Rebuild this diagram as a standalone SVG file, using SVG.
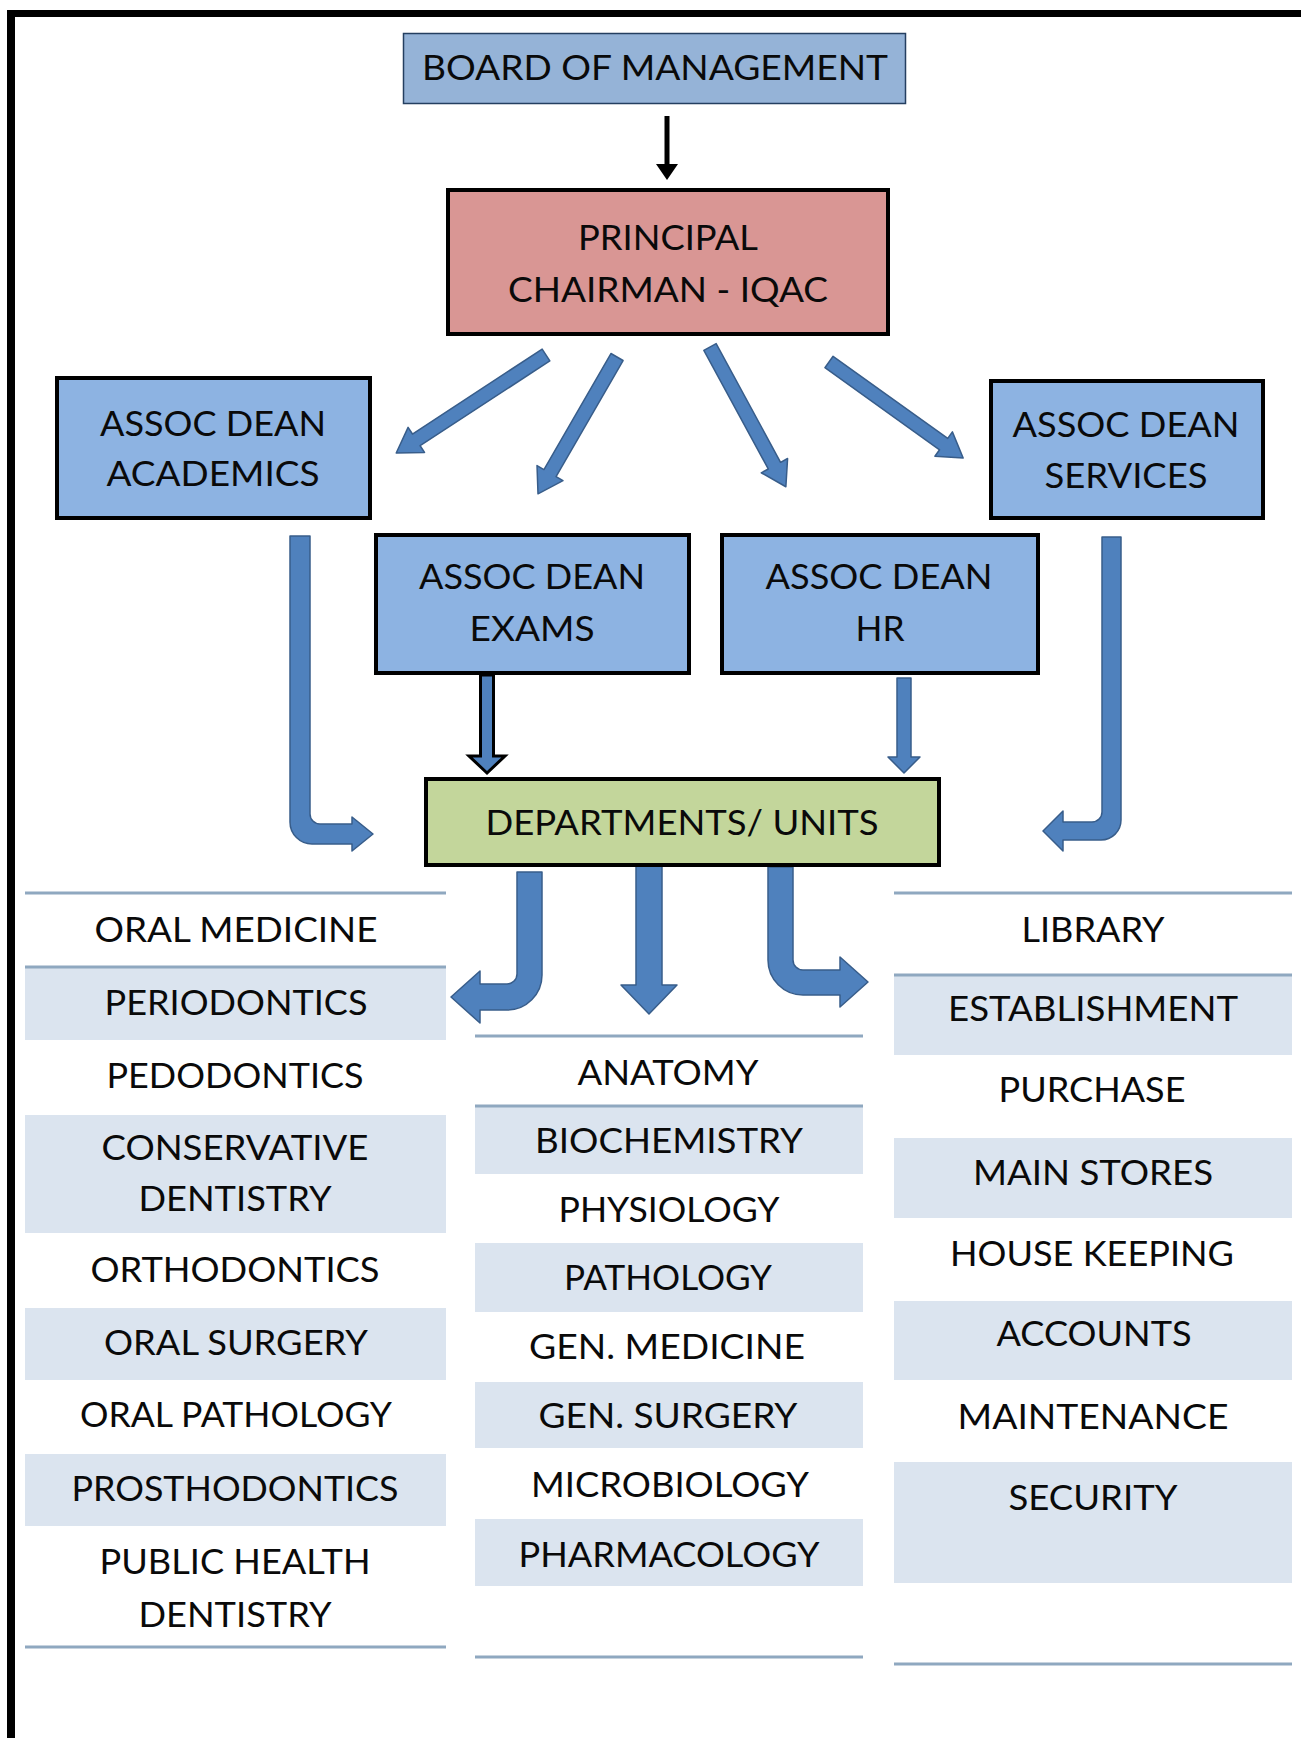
<svg xmlns="http://www.w3.org/2000/svg" width="1301" height="1738" viewBox="0 0 1301 1738">
<style>
text{font-family:Lato,"Open Sans","Liberation Sans",sans-serif;font-size:35px;fill:#0a0a0a;text-anchor:middle}
.dean{fill:#8db3e2;stroke:#000;stroke-width:4}
.blue{fill:#4f81bd;stroke:#385d8a;stroke-width:1.5;stroke-linejoin:round}
.shade{fill:#dbe4ef}
.rule{stroke:#8fa8c0;stroke-width:3}
</style>
<rect x="0" y="0" width="1301" height="1738" fill="#fff"/>
<g id="frame">
<rect x="7" y="10" width="8" height="1728" fill="#000"/>
<rect x="7" y="10" width="1294" height="7" fill="#000"/>
</g>
<g id="connectors">
<rect x="664.5" y="116" width="5" height="52" fill="#000"/>
<polygon points="656,164 678,164 667,180" fill="#000"/>
<path class="blue" transform="translate(546,355) rotate(146.8)" d="M0,-7 H155 V-15 L179,0 L155,15 V7 H0 Z"/>
<path class="blue" transform="translate(617,357) rotate(120)" d="M0,-7 H134 V-15 L158,0 L134,15 V7 H0 Z"/>
<path class="blue" transform="translate(710,347) rotate(61.5)" d="M0,-7 H135 V-15 L159,0 L135,15 V7 H0 Z"/>
<path class="blue" transform="translate(829,362) rotate(35.6)" d="M0,-7 H141 V-15 L165,0 L141,15 V7 H0 Z"/>
<path class="blue" d="M290,536 H310 V814 A10,10 0 0 0 320,824 H352 V817 L373,834 L352,851 V844 H312 A22,22 0 0 1 290,822 Z"/>
<path class="blue" d="M1102,537 H1121 V820 A20,20 0 0 1 1101,840 H1063 V851 L1043,831 L1063,811 V822 H1092 A10,10 0 0 0 1102,812 Z"/>
<path d="M480.5,675 H493.5 V756 H505 L487,773 L469,756 H480.5 Z" fill="#4f81bd" stroke="#000" stroke-width="3" stroke-linejoin="miter"/>
<path class="blue" d="M897,678 H911 V757 H920 L904,773 L888,757 H897 Z"/>
<path class="blue" d="M517,872 H542 V975 A35,35 0 0 1 507,1010 H480 V1023 L451,997 L480,971 V984 H507 A10,10 0 0 0 517,974 Z"/>
<path class="blue" d="M636,864 H662 V985 H677 L649,1014 L621,985 H636 Z"/>
<path class="blue" d="M768,867 H793 V960 A10,10 0 0 0 803,970 H840 V957 L868,982 L840,1007 V995 H803 A35,35 0 0 1 768,960 Z"/>
</g>
<g id="board">
<rect x="403.5" y="33.5" width="502" height="70" fill="#95b3d7" stroke="#243f60" stroke-width="1.5"/>
<text x="655" y="80" textLength="466" lengthAdjust="spacingAndGlyphs">BOARD OF MANAGEMENT</text>
</g>
<g id="principal">
<rect x="448" y="190" width="440" height="144" fill="#d99694" stroke="#000" stroke-width="4"/>
<text x="668" y="250" textLength="180" lengthAdjust="spacingAndGlyphs">PRINCIPAL</text>
<text x="668" y="302" textLength="320" lengthAdjust="spacingAndGlyphs">CHAIRMAN - IQAC</text>
</g>
<g id="dean-academics">
<rect class="dean" x="57" y="378" width="313" height="140"/>
<text x="213" y="436" textLength="226" lengthAdjust="spacingAndGlyphs">ASSOC DEAN</text>
<text x="213" y="486" textLength="213" lengthAdjust="spacingAndGlyphs">ACADEMICS</text>
</g>
<g id="dean-services">
<rect class="dean" x="991" y="381" width="272" height="137"/>
<text x="1126" y="437" textLength="227" lengthAdjust="spacingAndGlyphs">ASSOC DEAN</text>
<text x="1126" y="488" textLength="163" lengthAdjust="spacingAndGlyphs">SERVICES</text>
</g>
<g id="dean-exams">
<rect class="dean" x="376" y="535" width="313" height="138"/>
<text x="532" y="589" textLength="226" lengthAdjust="spacingAndGlyphs">ASSOC DEAN</text>
<text x="532" y="641" textLength="125" lengthAdjust="spacingAndGlyphs">EXAMS</text>
</g>
<g id="dean-hr">
<rect class="dean" x="722" y="535" width="316" height="138"/>
<text x="879" y="589" textLength="227" lengthAdjust="spacingAndGlyphs">ASSOC DEAN</text>
<text x="880" y="641" textLength="49" lengthAdjust="spacingAndGlyphs">HR</text>
</g>
<g id="departments">
<rect x="426" y="779" width="513" height="86" fill="#c3d69b" stroke="#000" stroke-width="4"/>
<text x="682" y="835" textLength="393" lengthAdjust="spacingAndGlyphs">DEPARTMENTS/ UNITS</text>
</g>
<g id="column-left">
<rect class="shade" x="25" y="967" width="421" height="73"/>
<rect class="shade" x="25" y="1115" width="421" height="118"/>
<rect class="shade" x="25" y="1308" width="421" height="72"/>
<rect class="shade" x="25" y="1454" width="421" height="72"/>
<line class="rule" x1="25" y1="893" x2="446" y2="893"/>
<line class="rule" x1="25" y1="967" x2="446" y2="967"/>
<line class="rule" x1="25" y1="1647" x2="446" y2="1647"/>
<text x="236" y="942" textLength="283" lengthAdjust="spacingAndGlyphs">ORAL MEDICINE</text>
<text x="236" y="1015" textLength="263" lengthAdjust="spacingAndGlyphs">PERIODONTICS</text>
<text x="235" y="1088" textLength="257" lengthAdjust="spacingAndGlyphs">PEDODONTICS</text>
<text x="235" y="1160" textLength="267" lengthAdjust="spacingAndGlyphs">CONSERVATIVE</text>
<text x="235" y="1211" textLength="193" lengthAdjust="spacingAndGlyphs">DENTISTRY</text>
<text x="235" y="1282" textLength="289" lengthAdjust="spacingAndGlyphs">ORTHODONTICS</text>
<text x="236" y="1355" textLength="264" lengthAdjust="spacingAndGlyphs">ORAL SURGERY</text>
<text x="236" y="1427" textLength="312" lengthAdjust="spacingAndGlyphs">ORAL PATHOLOGY</text>
<text x="235" y="1501" textLength="327" lengthAdjust="spacingAndGlyphs">PROSTHODONTICS</text>
<text x="235" y="1574" textLength="271" lengthAdjust="spacingAndGlyphs">PUBLIC HEALTH</text>
<text x="235" y="1627" textLength="193" lengthAdjust="spacingAndGlyphs">DENTISTRY</text>
</g>
<g id="column-middle">
<rect class="shade" x="475" y="1107" width="388" height="67"/>
<rect class="shade" x="475" y="1243" width="388" height="69"/>
<rect class="shade" x="475" y="1382" width="388" height="66"/>
<rect class="shade" x="475" y="1519" width="388" height="67"/>
<line class="rule" x1="475" y1="1036" x2="863" y2="1036"/>
<line class="rule" x1="475" y1="1106" x2="863" y2="1106"/>
<line class="rule" x1="475" y1="1657" x2="863" y2="1657"/>
<text x="668" y="1085" textLength="181" lengthAdjust="spacingAndGlyphs">ANATOMY</text>
<text x="669" y="1153" textLength="268" lengthAdjust="spacingAndGlyphs">BIOCHEMISTRY</text>
<text x="669" y="1222" textLength="221" lengthAdjust="spacingAndGlyphs">PHYSIOLOGY</text>
<text x="668" y="1290" textLength="208" lengthAdjust="spacingAndGlyphs">PATHOLOGY</text>
<text x="667" y="1359" textLength="276" lengthAdjust="spacingAndGlyphs">GEN. MEDICINE</text>
<text x="668" y="1428" textLength="259" lengthAdjust="spacingAndGlyphs">GEN. SURGERY</text>
<text x="670" y="1497" textLength="278" lengthAdjust="spacingAndGlyphs">MICROBIOLOGY</text>
<text x="669" y="1567" textLength="301" lengthAdjust="spacingAndGlyphs">PHARMACOLOGY</text>
</g>
<g id="column-right">
<rect class="shade" x="894" y="976" width="398" height="79"/>
<rect class="shade" x="894" y="1138" width="398" height="80"/>
<rect class="shade" x="894" y="1301" width="398" height="79"/>
<rect class="shade" x="894" y="1462" width="398" height="121"/>
<line class="rule" x1="894" y1="893" x2="1292" y2="893"/>
<line class="rule" x1="894" y1="975" x2="1292" y2="975"/>
<line class="rule" x1="894" y1="1664" x2="1292" y2="1664"/>
<text x="1093" y="942" textLength="143" lengthAdjust="spacingAndGlyphs">LIBRARY</text>
<text x="1093" y="1021" textLength="290" lengthAdjust="spacingAndGlyphs">ESTABLISHMENT</text>
<text x="1092" y="1102" textLength="187" lengthAdjust="spacingAndGlyphs">PURCHASE</text>
<text x="1093" y="1185" textLength="240" lengthAdjust="spacingAndGlyphs">MAIN STORES</text>
<text x="1092" y="1266" textLength="284" lengthAdjust="spacingAndGlyphs">HOUSE KEEPING</text>
<text x="1094" y="1346" textLength="195" lengthAdjust="spacingAndGlyphs">ACCOUNTS</text>
<text x="1093" y="1429" textLength="271" lengthAdjust="spacingAndGlyphs">MAINTENANCE</text>
<text x="1093" y="1510" textLength="169" lengthAdjust="spacingAndGlyphs">SECURITY</text>
</g>
</svg>
